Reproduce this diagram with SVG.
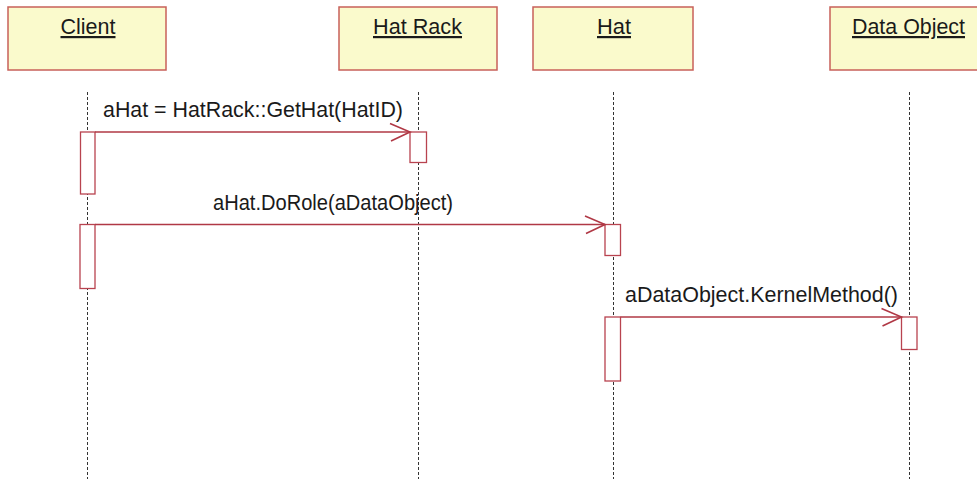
<svg xmlns="http://www.w3.org/2000/svg" width="977" height="479" viewBox="0 0 977 479">
<style>
.obj{fill:#fafacc;stroke:#c8605a;stroke-width:1.5}
.name{font-family:"Liberation Sans",Arial,sans-serif;font-size:22px;fill:#1a1a1a;text-anchor:middle;text-decoration:underline}
.life{stroke:#333;stroke-width:1;stroke-dasharray:3,2;fill:none}
.act{fill:#fff;stroke:#b8434f;stroke-width:1.3}
.msg{stroke:#b03845;stroke-width:1.3;fill:none}
.head{stroke:#b03845;stroke-width:1.6;fill:none}
.lbl{font-family:"Liberation Sans",Arial,sans-serif;font-size:22px;fill:#1a1a1a;text-anchor:middle}
</style>
<rect width="977" height="479" fill="#fff"/>
<g id="lifelines">
<line class="life" x1="87.5" y1="92" x2="87.5" y2="479"/>
<line class="life" x1="418.5" y1="92" x2="418.5" y2="479"/>
<line class="life" x1="613.5" y1="92" x2="613.5" y2="479"/>
<line class="life" x1="909.5" y1="92" x2="909.5" y2="479"/>
</g>
<g id="client"><rect class="obj" x="8" y="7" width="158" height="63"/><text class="name" x="88" y="34" textLength="55" lengthAdjust="spacingAndGlyphs">Client</text></g>
<g id="hatrack"><rect class="obj" x="339" y="7" width="158" height="63"/><text class="name" x="417.5" y="34" textLength="89" lengthAdjust="spacingAndGlyphs">Hat Rack</text></g>
<g id="hat"><rect class="obj" x="533" y="7" width="160" height="63"/><text class="name" x="614" y="34" textLength="34" lengthAdjust="spacingAndGlyphs">Hat</text></g>
<g id="dataobject"><rect class="obj" x="830" y="7" width="160" height="63"/><text class="name" x="908.5" y="34" textLength="113" lengthAdjust="spacingAndGlyphs">Data Object</text></g>
<g id="activations">
<rect class="act" x="80.5" y="132" width="14.5" height="62"/>
<rect class="act" x="410" y="132" width="16.5" height="30.5"/>
<rect class="act" x="80" y="224.5" width="15" height="64"/>
<rect class="act" x="605" y="224.5" width="15.5" height="31"/>
<rect class="act" x="605" y="317" width="15.5" height="64"/>
<rect class="act" x="901.5" y="317" width="15.5" height="32.5"/>
</g>
<g id="connectors">
<line class="msg" x1="95" y1="132" x2="410" y2="132"/>
<polyline class="head" points="390,123.5 410,132 391,141"/>
<line class="msg" x1="95" y1="224.5" x2="605" y2="224.5"/>
<polyline class="head" points="585,216 605,224.5 586,233.5"/>
<line class="msg" x1="620.5" y1="317" x2="901.5" y2="317"/>
<polyline class="head" points="881.5,308.5 901.5,317 882.5,326"/>
<text class="lbl" x="253" y="117" textLength="300" lengthAdjust="spacingAndGlyphs">aHat = HatRack::GetHat(HatID)</text>
<text class="lbl" x="333" y="210" textLength="240" lengthAdjust="spacingAndGlyphs">aHat.DoRole(aDataObject)</text>
<text class="lbl" x="761.5" y="302" textLength="273" lengthAdjust="spacingAndGlyphs">aDataObject.KernelMethod()</text>
</g>
</svg>
